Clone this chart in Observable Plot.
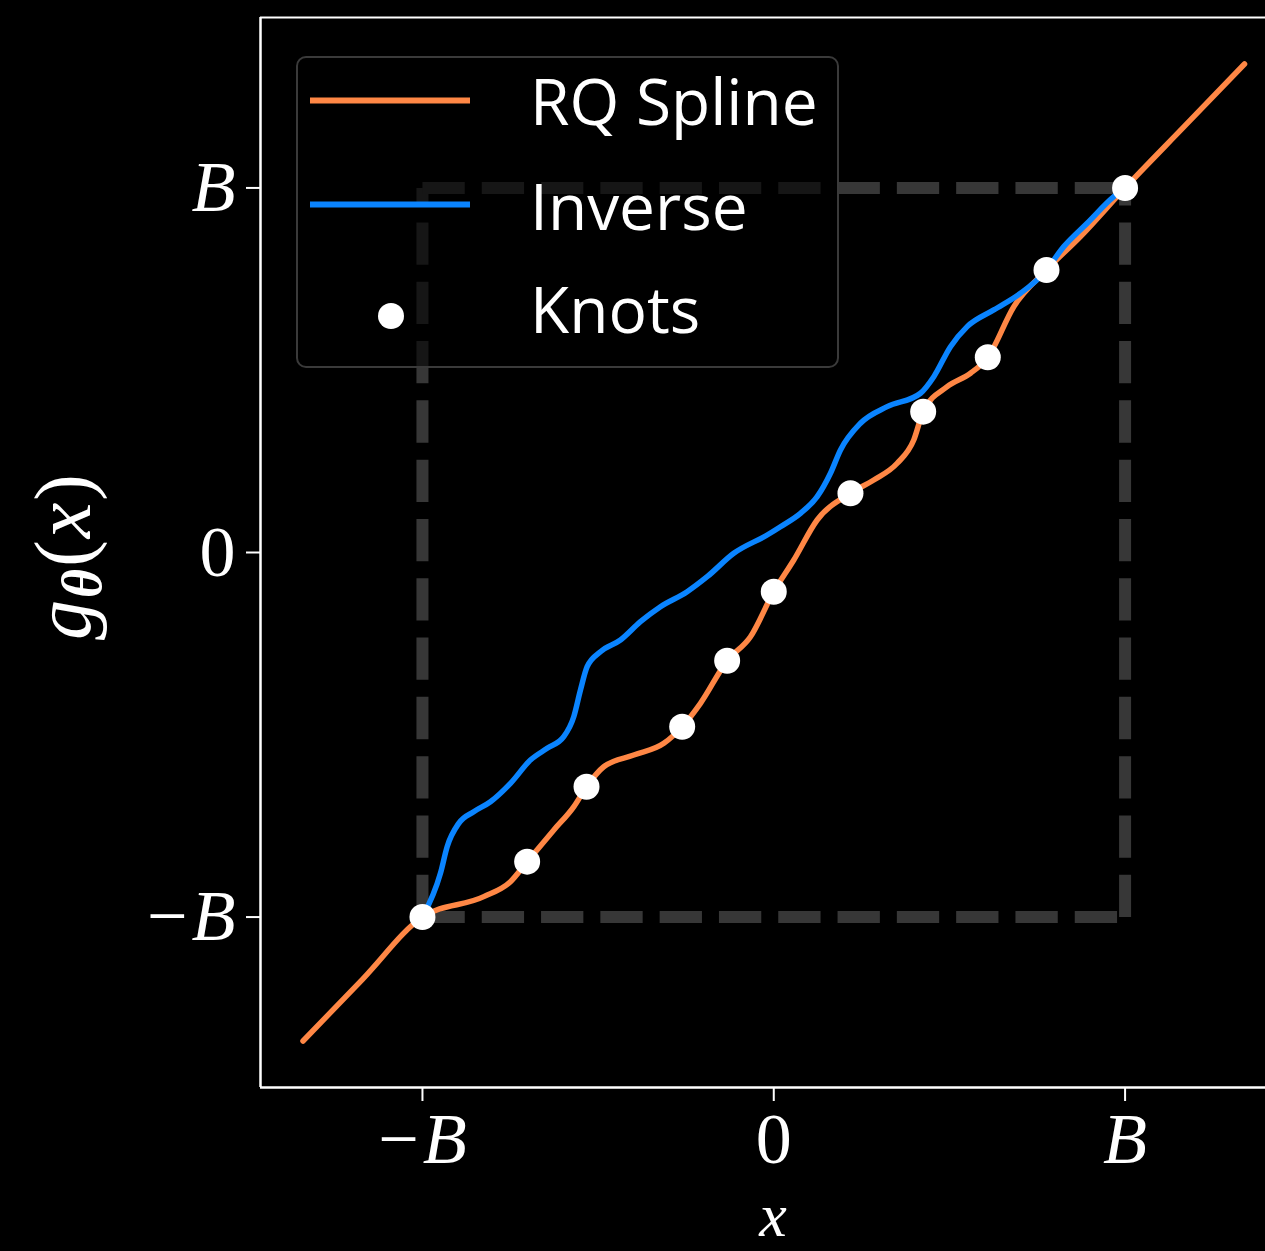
<!DOCTYPE html>
<html>
<head>
<meta charset="utf-8">
<script src="https://cdn.jsdelivr.net/npm/d3@7"></script>
<script src="https://cdn.jsdelivr.net/npm/@observablehq/plot@0.6"></script>
<style>
  html, body { margin: 0; padding: 0; background: #000; }
  #chart { width: 1265px; height: 1251px; overflow: hidden; }
</style>
</head>
<body>
<div id="chart"></div>
<script>
// ---------------- data ----------------
const B = 1;
const xDomain = [-1.461, 1.3997];
const yDomain = [-1.4675, 1.4675];

const tickValues = [-B, 0, B];
const tickLabels = ["−B", "0", "B"];

// RQ spline (incl. identity tails outside [-B, B])
const splineX = [-1.34, -1.17, -1, -0.8255, -0.7495, -0.702, -0.626, -0.569, -0.533, -0.484, -0.3985, -0.313, -0.2607, -0.2087, -0.1327, -0.0663, 0, 0.057, 0.1235, 0.2183, 0.2847, 0.3513, 0.3985, 0.4253, 0.4936, 0.56, 0.6092, 0.6832, 0.7763, 0.873, 1, 1.17, 1.34];
const splineY = [-1.34, -1.17, -1, -0.944, -0.903, -0.848, -0.761, -0.697, -0.6425, -0.5877, -0.5556, -0.5235, -0.478, -0.4137, -0.2968, -0.231, -0.1075, -0.0206, 0.0892, 0.1624, 0.1989, 0.2447, 0.3086, 0.3863, 0.4549, 0.4916, 0.5355, 0.6743, 0.775, 0.8664, 1, 1.17, 1.34];

// Inverse
const inverseX = [-1, -0.9488, -0.9297, -0.8967, -0.854, -0.8064, -0.7495, -0.6926, -0.645, -0.5978, -0.5693, -0.5502, -0.5312, -0.4933, -0.4364, -0.3795, -0.3225, -0.2465, -0.1896, -0.1139, -0.0188, 0.0191, 0.076, 0.1235, 0.1614, 0.1899, 0.2468, 0.3228, 0.4176, 0.4555, 0.503, 0.5505, 0.6262, 0.7023, 0.7686, 0.8255, 0.8921, 0.9678, 1];
const inverseY = [-1, -0.880, -0.807, -0.743, -0.711, -0.6837, -0.6332, -0.5693, -0.5372, -0.5053, -0.4505, -0.3772, -0.3133, -0.2722, -0.24, -0.1898, -0.1487, -0.1075, -0.0664, -0.0022, 0.048, 0.0708, 0.1075, 0.1531, 0.2173, 0.2812, 0.3545, 0.4, 0.4368, 0.4823, 0.5646, 0.6195, 0.6653, 0.7111, 0.766, 0.839, 0.9032, 0.9761, 1];

// Knots
const knotX = [-1, -0.702, -0.533, -0.2607, -0.1327, 0, 0.2183, 0.4253, 0.6092, 0.7763, 1];
const knotY = [-1, -0.848, -0.6425, -0.478, -0.2968, -0.1075, 0.1624, 0.3863, 0.5355, 0.775, 1];

// Dashed bounding box [-B, B]^2 (each side drawn from the (-B,-B) end)
const boxSides = [
  {x1: -B, y1: -B, x2: B, y2: -B},
  {x1: -B, y1: -B, x2: -B, y2: B},
  {x1: -B, y1: B, x2: B, y2: B},
  {x1: B, y1: -B, x2: B, y2: B}
];

const legendLabels = ["RQ Spline", "Inverse", "Knots"];

const orange = "#ff8745";
const blue = "#0a84ff";

const spline = splineX.map((x, i) => ({x, y: splineY[i]}));
const inverse = inverseX.map((x, i) => ({x, y: inverseY[i]}));
const knots = knotX.map((x, i) => ({x, y: knotY[i]}));

// ---------------- chart ----------------
const serif = "'Liberation Serif', 'DejaVu Serif', serif";

const chart = Plot.plot({
  width: 1265,
  height: 1251,
  marginLeft: 260,
  marginRight: 0,
  marginTop: 17,
  marginBottom: 164,
  style: {background: "#000", color: "#fff", fontFamily: serif, fontSize: "72px", overflow: "hidden"},
  x: {domain: xDomain},
  y: {domain: yDomain},
  marks: [
    Plot.link(boxSides, {x1: "x1", y1: "y1", x2: "x2", y2: "y2", stroke: "#373737", strokeWidth: 12, strokeDasharray: "42.3,17"}),
    Plot.line(spline, {x: "x", y: "y", stroke: orange, strokeWidth: 5.5, curve: "monotone-x"}),
    Plot.line(inverse, {x: "x", y: "y", stroke: blue, strokeWidth: 5.5, curve: "monotone-x"}),
    Plot.dot(knots, {x: "x", y: "y", r: 13, fill: "#fff", stroke: "none"}),
    Plot.ruleX([xDomain[0]], {stroke: "#fff", strokeWidth: 2.5}),
    Plot.ruleY([yDomain[0]], {stroke: "#fff", strokeWidth: 2.5}),
    Plot.ruleY([yDomain[1]], {stroke: "#fff", strokeWidth: 2}),
    Plot.axisX({ticks: tickValues, tickFormat: d => tickLabels[tickValues.indexOf(d)], tickSize: 14, tickPadding: 10, strokeWidth: 2, fontSize: 72, label: null}),
    Plot.axisY({ticks: tickValues, tickFormat: d => tickLabels[tickValues.indexOf(d)], tickSize: 14, tickPadding: 11, strokeWidth: 2, fontSize: 72, label: null})
  ]
});

document.getElementById("chart").appendChild(chart);

const svg = d3.select(chart);

// LaTeX-like tick labels: italic B, upright 0 and minus
svg.selectAll("text").each(function() {
  const t = d3.select(this);
  const s = this.textContent;
  if (s === "−B") {
    t.text(null);
    t.append("tspan").text("−");
    t.append("tspan").attr("font-style", "italic").attr("dx", 4).text("B");
  } else if (s === "B") {
    t.attr("font-style", "italic");
  }
});

// Axis labels
svg.append("text")
  .attr("x", 773)
  .attr("y", 1236)
  .attr("text-anchor", "middle")
  .attr("font-family", serif)
  .attr("font-size", 62)
  .attr("font-style", "italic")
  .attr("fill", "#fff")
  .text("x");

const yl = svg.append("text")
  .attr("transform", "translate(90,556) rotate(-90)")
  .attr("text-anchor", "middle")
  .attr("font-family", serif)
  .attr("font-size", 80)
  .attr("letter-spacing", 2)
  .attr("fill", "#fff");
yl.append("tspan").attr("font-style", "italic").text("g");
yl.append("tspan").attr("font-style", "italic").attr("font-weight", "bold").attr("font-size", 56).attr("dy", 11).text("θ");
yl.append("tspan").attr("dy", -11).text("(");
yl.append("tspan").attr("font-style", "italic").text("x");
yl.append("tspan").text(")");

// Legend
const sans = "'Open Sans', 'Noto Sans', sans-serif";
const lg = svg.append("g");
lg.append("rect")
  .attr("x", 297).attr("y", 57).attr("width", 541).attr("height", 310).attr("rx", 9)
  .attr("fill", "#000").attr("fill-opacity", 0.6)
  .attr("stroke", "#3a3a3a").attr("stroke-width", 2);
lg.append("line").attr("x1", 310).attr("x2", 470).attr("y1", 100.5).attr("y2", 100.5)
  .attr("stroke", orange).attr("stroke-width", 6);
lg.append("line").attr("x1", 310).attr("x2", 470).attr("y1", 204.5).attr("y2", 204.5)
  .attr("stroke", blue).attr("stroke-width", 6);
lg.append("circle").attr("cx", 391).attr("cy", 316).attr("r", 13).attr("fill", "#fff");
const legendBaselines = [125, 230, 333];
legendLabels.forEach((s, i) => {
  lg.append("text")
    .attr("x", 530).attr("y", legendBaselines[i])
    .attr("text-anchor", "start")
    .attr("font-family", sans).attr("font-size", 64)
    .attr("fill", "#fff")
    .text(s);
});
</script>
</body>
</html>
